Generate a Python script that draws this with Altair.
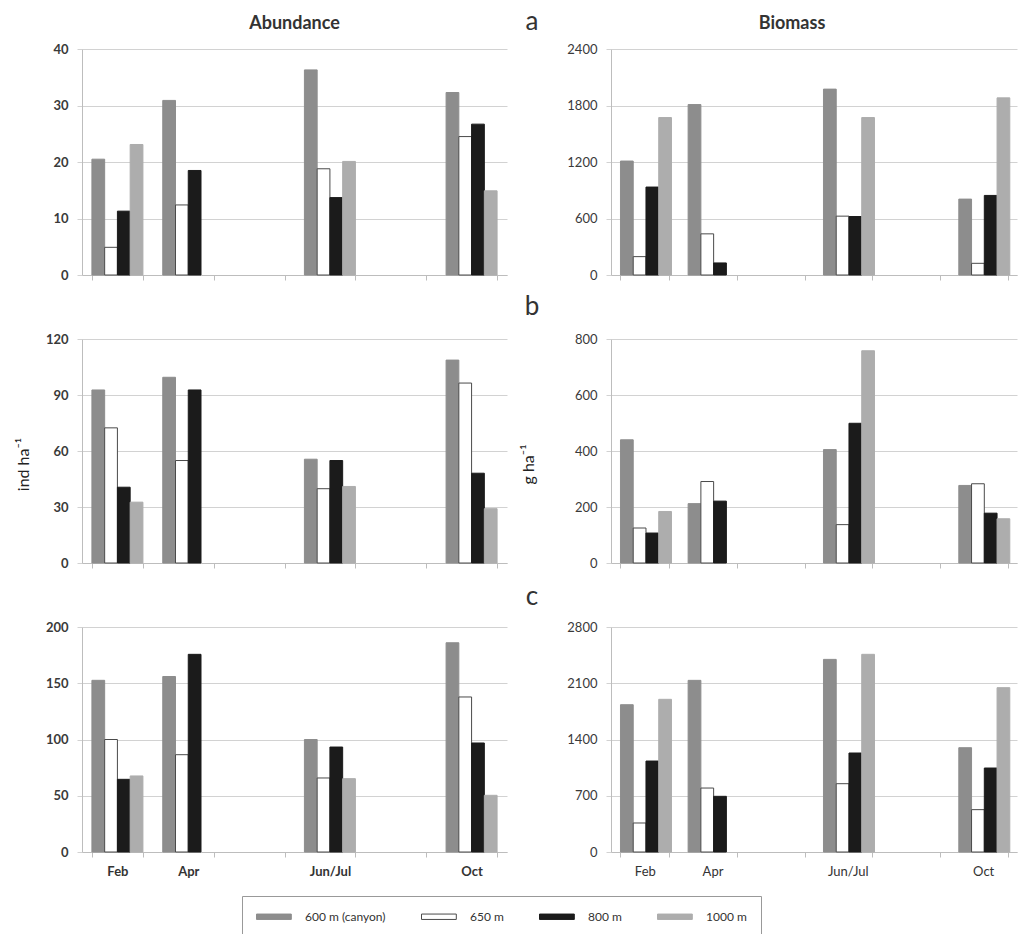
import altair as alt
import pandas as pd

months = ["Feb", "Apr", "gap1", "Jun/Jul", "gap2", "Oct"]
data_months = ["Feb", "Apr", "Jun/Jul", "Oct"]
depths = ["600 m (canyon)", "650 m", "800 m", "1000 m"]
fill_colors = ["#8d8d8d", "#ffffff", "#1b1b1b", "#adadad"]
stroke_colors = ["#8d8d8d", "#4a4a4a", "#1b1b1b", "#adadad"]

# one list per depth (600, 650, 800, 1000 m); values for Feb, Apr, Jun/Jul, Oct
abund_a = [[20.5, 30.9, 36.3, 32.3], [4.9, 12.4, 18.8, 24.5],
           [11.3, 18.5, 13.7, 26.7], [23.1, None, 20.1, 14.9]]
biom_a = [[1210, 1810, 1974, 806], [195, 437, 625, 124],
          [934, 128, 621, 845], [1672, None, 1672, 1881]]
abund_b = [[92.7, 99.5, 55.6, 108.7], [72.4, 54.9, 39.8, 96.4],
           [40.6, 92.7, 54.9, 48.1], [32.6, None, 41.0, 29.1]]
biom_b = [[440, 212, 405, 277], [125, 291, 137, 283],
          [107, 221, 499, 178], [184, None, 758, 158]]
abund_c = [[152.6, 156, 100, 186], [100, 86.5, 65.8, 137.8],
           [64.6, 175.7, 93.3, 96.9], [67.6, None, 65.2, 50.4]]
biom_c = [[1833, 2136, 2397, 1298], [361, 796, 850, 527],
          [1132, 693, 1232, 1045], [1900, None, 2460, 2045]]

FONT = "Lato"


def frame(values):
    rows = []
    for d, vals in zip(depths, values):
        for m, v in zip(data_months, vals):
            if v is not None:
                rows.append({"month": m, "depth": d, "value": v})
    return pd.DataFrame(rows)


legend = alt.Legend(
    orient="none", legendX=160, legendY=847, direction="horizontal",
    title=None, strokeColor="#999999", padding=14, columnPadding=33,
    symbolType="M-1,-0.45L4.8,-0.45L4.8,0.45L-1,0.45Z", symbolSize=144,
    symbolStrokeWidth=1, labelOffset=36, labelFontSize=12, labelFont=FONT,
    labelColor="#333333",
)


def text_layer(txt, x, y, size, weight):
    return alt.Chart(pd.DataFrame({"t": [txt]})).mark_text(
        fontSize=size, font=FONT, fontWeight=weight, color="#333333",
        align="center", baseline="middle"
    ).encode(text="t:N", x=alt.value(x), y=alt.value(y))


def panel(values, ymax, step, width, height, left, show_labels,
          ytitle=None, ytitle_x=0, title=None, title_dx=0, letter=None, letter_y=0):
    weight = "bold" if left else "normal"
    x_axis = alt.Axis(
        title=None, labels=show_labels, labelAngle=0, tickBand="extent",
        tickSize=5, tickColor="#bdbdbd", domainColor="#bdbdbd", grid=False,
        labelFontSize=13, labelFont=FONT, labelFontWeight=weight,
        labelColor="#333333", labelPadding=8,
        labelExpr="(datum.value == 'gap1' || datum.value == 'gap2') ? '' : datum.value",
    )
    y_kwargs = dict(
        values=list(range(0, ymax + 1, step)), format="d", grid=True, gridColor="#d2d2d2",
        tickSize=5, tickColor="#d2d2d2", domainColor="#bdbdbd",
        labelFontSize=13, labelFont=FONT, labelFontWeight=weight,
        labelColor="#3a3a3a", labelPadding=9,
    )
    if ytitle:
        y_kwargs.update(title=ytitle, titleX=ytitle_x, titleY=height / 2 + 13,
                        titleFontSize=16, titleFont=FONT, titleFontWeight="normal",
                        titleColor="#222222", titleAngle=270)
    else:
        y_kwargs.update(title=None)
    bars = alt.Chart(frame(values)).mark_bar(strokeWidth=1).encode(
        x=alt.X("month:N", sort=months,
                scale=alt.Scale(domain=months, paddingInner=0.28, paddingOuter=0.14),
                axis=x_axis),
        xOffset=alt.XOffset("depth:N", sort=depths,
                            scale=alt.Scale(domain=depths, paddingInner=0, paddingOuter=0)),
        y=alt.Y("value:Q", scale=alt.Scale(domain=[0, ymax], nice=False),
                axis=alt.Axis(**y_kwargs)),
        fill=alt.Fill("depth:N", sort=depths,
                      scale=alt.Scale(domain=depths, range=fill_colors), legend=legend),
        stroke=alt.Stroke("depth:N", sort=depths,
                          scale=alt.Scale(domain=depths, range=stroke_colors), legend=legend),
    )
    layers = [bars]
    if title:
        layers.append(text_layer(title, width / 2 + title_dx, -25, 18, "bold"))
    if letter:
        layers.append(text_layer(letter, -79, letter_y, 26, "normal"))
    return alt.layer(*layers).properties(width=width, height=height)


WL, WR = 425, 406

a1 = panel(abund_a, 40, 10, WL, 226, True, False, title="Abundance")
a2 = panel(biom_a, 2400, 600, WR, 226, False, False, title="Biomass", title_dx=-22,
           letter="a", letter_y=-27)
b1 = panel(abund_b, 120, 30, WL, 224, True, False, ytitle="ind ha⁻¹", ytitle_x=-51)
b2 = panel(biom_b, 800, 200, WR, 224, False, False, ytitle="g ha⁻¹", ytitle_x=-75,
           letter="b", letter_y=-32)
c1 = panel(abund_c, 200, 50, WL, 225, True, True)
c2 = panel(biom_c, 2800, 700, WR, 225, False, True, letter="c", letter_y=-30)

chart = alt.concat(
    a1, a2, b1, b2, c1, c2, columns=2,
    spacing=alt.RowColnumber(row=64, column=104), bounds="flush",
).properties(
    padding={"left": 15, "top": 9, "right": 2, "bottom": 4}
).configure(font=FONT).configure_view(strokeOpacity=0)

chart.save("out.html", embed_options={"renderer": "svg", "actions": False})
